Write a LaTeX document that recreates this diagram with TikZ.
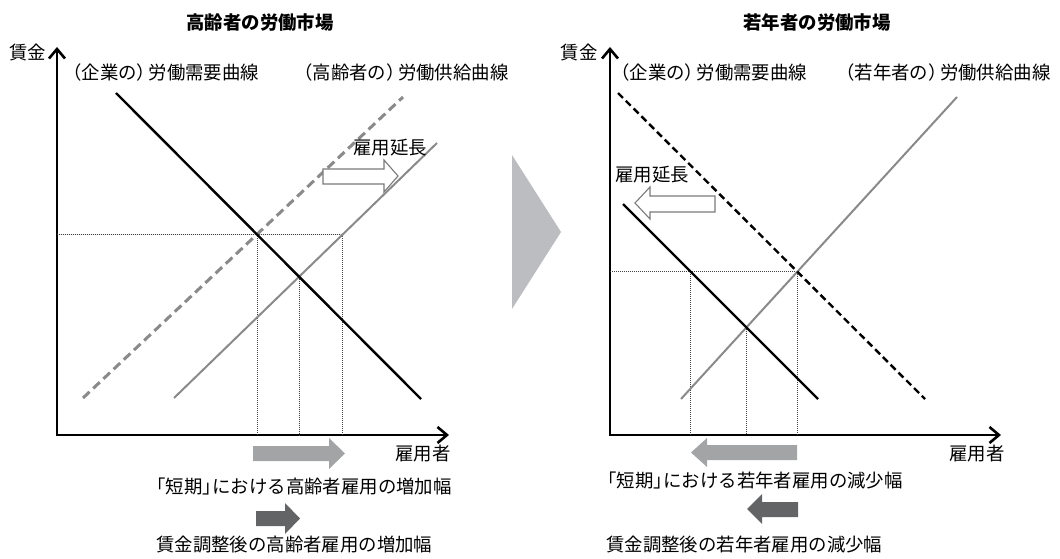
\documentclass[tikz,border=0pt]{standalone}
\usepackage{fontspec}
\setmainfont{Noto Sans CJK JP}
\usetikzlibrary{arrows.meta}
\definecolor{supgray}{HTML}{8A8A8A}
\definecolor{lgray}{HTML}{A3A4A6}
\definecolor{dgray}{HTML}{636466}
\definecolor{trigray}{HTML}{BCBDC0}
\definecolor{hollowgray}{HTML}{7A7A7A}
\newcommand{\rpar}{）\kern-0.35em}
\newcommand{\rbrk}{」\kern-0.45em}
\begin{document}
\begin{tikzpicture}[x=1pt,y=-1pt,
  txt/.style={inner sep=0pt, font=\fontsize{18.4}{21}\selectfont},
  ttl/.style={inner sep=0pt, font=\fontsize{18.4}{21}\selectfont\bfseries},
  axisline/.style={line width=2.8pt, line cap=rect, -{Straight Barb[length=9.5pt,width=16pt,line width=2.6pt]}},
  demand/.style={line width=2.4pt, black},
  demanddash/.style={line width=2.4pt, black, dash pattern=on 7pt off 4pt},
  supply/.style={line width=2pt, supgray},
  supplydash/.style={line width=3pt, supgray, dash pattern=on 9pt off 5pt},
  guide/.style={line width=0.75pt, black!75, dash pattern=on 1pt off 1pt},
  hollow/.style={draw=hollowgray, fill=white, line width=1.1pt},
  shortarrow/.style={fill=lgray},
  longarrow/.style={fill=dgray},
  shiftmark/.style={fill=trigray}]
\useasboundingbox (0,0) rectangle (1060,559);

% ---------- titles ----------
\node[ttl] (t1) at (260,23) {高齢者の労働市場};
\node[ttl] (t2) at (817,23) {若年者の労働市場};

% ---------- left chart ----------
\coordinate (O1) at (57,435);
\coordinate (Y1) at (57,47);
\coordinate (X1) at (449,435);
\draw[axisline] (O1) -- (Y1);
\draw[axisline] (O1) -- (X1);
\node[txt] (w1) at (28,53) {賃金};
\node[txt] (n1) at (423,454) {雇用者};

\coordinate (D1a) at (116,93);
\coordinate (D1b) at (421,399);
\coordinate (S1a) at (83,398);
\coordinate (S1b) at (403,97);
\coordinate (S2a) at (174,398);
\coordinate (S2b) at (437,143);
\coordinate (E1) at (intersection of D1a--D1b and S1a--S1b);
\coordinate (E2) at (intersection of D1a--D1b and S2a--S2b);
\coordinate (H1) at (E1 -| O1);
\coordinate (P1) at (intersection of H1--E1 and S2a--S2b);

\draw[guide] (H1) -- (P1);
\draw[guide] (E1) -- (E1 |- O1);
\draw[guide] (E2) -- (E2 |- O1);
\draw[guide] (P1) -- (P1 |- O1);

\draw[supplydash] (S1a) -- (S1b);
\draw[supply] (S2a) -- (S2b);
\draw[demand] (D1a) -- (D1b);

\node[txt,anchor=west] (ld1) at (63,73) {（企業の\rpar 労働需要曲線};
\node[txt,anchor=west] (ls1) at (294,73) {（高齢者の\rpar 労働供給曲線};
\node[txt] (ext1) at (390,148) {雇用延長};
\draw[hollow] (323,169) -- (384,169) -- (384,160) -- (398,176) -- (384,192) -- (384,184) -- (323,184) -- cycle;

\fill[shortarrow] (253,446) -- (329,446) -- (329,438) -- (345,453.5) -- (329,469) -- (329,461) -- (253,461) -- cycle;
\node[txt,anchor=west] (sl1) at (147,487) {「短期\rbrk における高齢者雇用の増加幅};
\fill[longarrow] (256,511) -- (285,511) -- (285,503) -- (300,518.5) -- (285,534) -- (285,526) -- (256,526) -- cycle;
\node[txt,anchor=west] (ll1) at (156,545) {賃金調整後の高齢者雇用の増加幅};

% ---------- middle triangle ----------
\fill[shiftmark] (512,155) -- (561,232) -- (512,309) -- cycle;

% ---------- right chart ----------
\coordinate (O2) at (610,435);
\coordinate (Y2) at (610,47);
\coordinate (X2) at (1001,435);
\draw[axisline] (O2) -- (Y2);
\draw[axisline] (O2) -- (X2);
\node[txt] (w2) at (579,53) {賃金};
\node[txt] (n2) at (977,454) {雇用者};

\coordinate (D2a) at (618,93);
\coordinate (D2b) at (925,399);
\coordinate (D3a) at (623,204);
\coordinate (D3b) at (818,399);
\coordinate (S3a) at (681,399);
\coordinate (S3b) at (957,97);
\coordinate (F1) at (intersection of D2a--D2b and S3a--S3b);
\coordinate (F2) at (intersection of D3a--D3b and S3a--S3b);
\coordinate (H2) at (F1 -| O2);
\coordinate (Q1) at (intersection of H2--F1 and D3a--D3b);

\draw[guide] (H2) -- (F1);
\draw[guide] (Q1) -- (Q1 |- O2);
\draw[guide] (F2) -- (F2 |- O2);
\draw[guide] (F1) -- (F1 |- O2);

\draw[supply] (S3a) -- (S3b);
\draw[demanddash] (D2a) -- (D2b);
\draw[demand] (D3a) -- (D3b);

\node[txt,anchor=west] (ld2) at (611,73) {（企業の\rpar 労働需要曲線};
\node[txt,anchor=west] (ls2) at (836,73) {（若年者の\rpar 労働供給曲線};
\node[txt] (ext2) at (652,175) {雇用延長};
\draw[hollow] (715,196) -- (650,196) -- (650,187) -- (635,203) -- (650,219) -- (650,212) -- (715,212) -- cycle;

\fill[shortarrow] (797,445) -- (707,445) -- (707,438) -- (691,452.5) -- (707,467) -- (707,460) -- (797,460) -- cycle;
\node[txt,anchor=west] (sl2) at (598,481) {「短期\rbrk における若年者雇用の減少幅};
\fill[longarrow] (798,502) -- (762,502) -- (762,494) -- (747,509) -- (762,524) -- (762,517) -- (798,517) -- cycle;
\node[txt,anchor=west] (ll2) at (606,545) {賃金調整後の若年者雇用の減少幅};
\end{tikzpicture}
\end{document}
